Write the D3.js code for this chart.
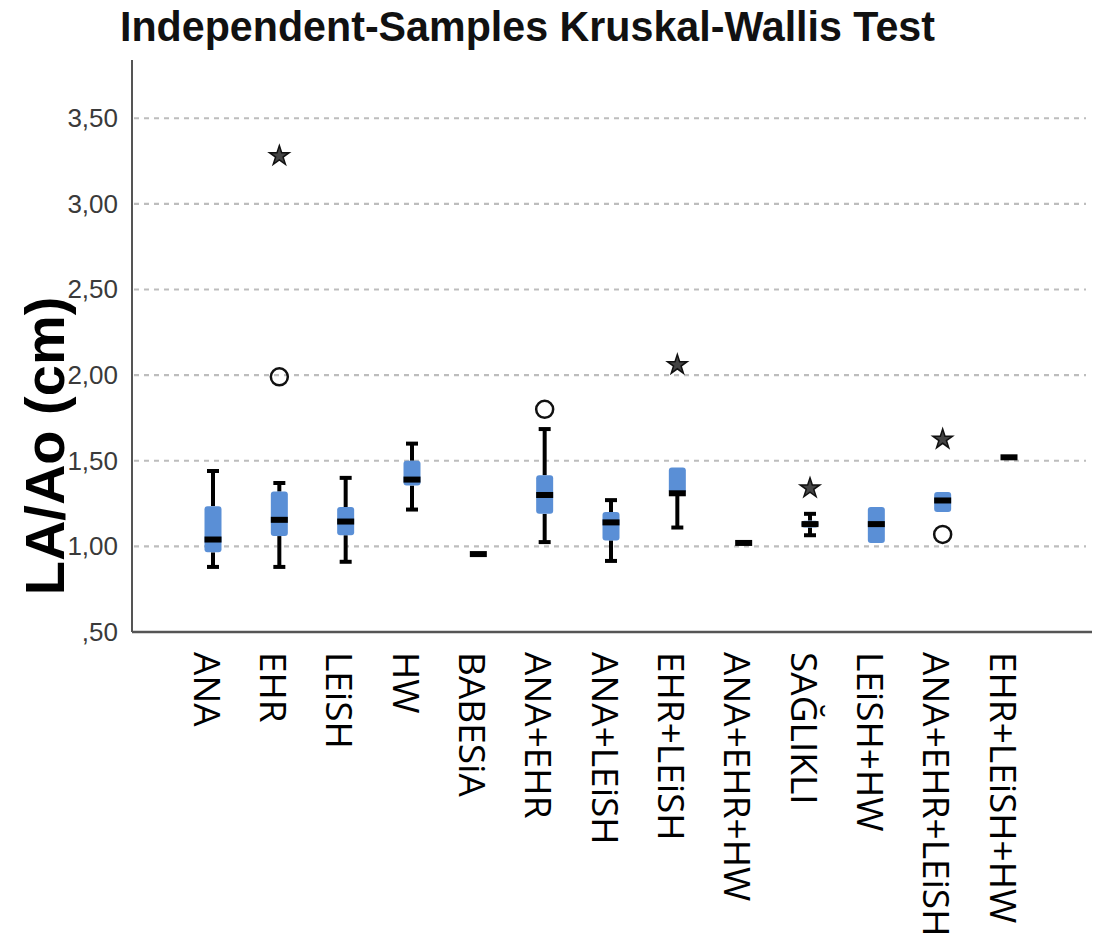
<!DOCTYPE html>
<html>
<head>
<meta charset="utf-8">
<script src="https://cdn.jsdelivr.net/npm/d3@7"></script>
<style>
  html, body { margin: 0; padding: 0; background: #fff; }
  svg { display: block; }
</style>
</head>
<body>
<svg id="chart" width="1096" height="950"></svg>
<script>
// ---- data ----
const categories = ["ANA","EHR","LEiSH","HW","BABESiA","ANA+EHR","ANA+LEiSH","EHR+LEiSH","ANA+EHR+HW","SAĞLIKLI","LEiSH+HW","ANA+EHR+LEiSH","EHR+LEiSH+HW"];
const whiskerLow  = [0.88, 0.88, 0.91, 1.215, 0.955, 1.025, 0.915, 1.11, 1.02, 1.065, 1.02, 1.20, 1.52];
const q1          = [0.965,1.06, 1.065,1.355, 0.955, 1.19, 1.035, 1.31, 1.02, 1.11, 1.02, 1.20, 1.52];
const medians     = [1.04, 1.155,1.145,1.39, 0.955, 1.30, 1.14, 1.31, 1.02, 1.13, 1.13, 1.268, 1.52];
const q3          = [1.235,1.32, 1.23, 1.50, 0.955, 1.415, 1.20, 1.46, 1.02, 1.15, 1.23, 1.318, 1.52];
const whiskerHigh = [1.44, 1.37, 1.40, 1.60, 0.955, 1.685, 1.27, 1.46, 1.02, 1.19, 1.23, 1.318, 1.52];
const circleCats   = ["EHR","ANA+EHR","ANA+EHR+LEiSH"];
const circleValues = [1.99, 1.80, 1.07];
const starCats     = ["EHR","EHR+LEiSH","SAĞLIKLI","ANA+EHR+LEiSH"];
const starValues   = [3.28, 2.06, 1.34, 1.625];
const yTicks = [0.5, 1.0, 1.5, 2.0, 2.5, 3.0, 3.5];
const titleText = "Independent-Samples Kruskal-Wallis Test";
const yTitle = "LA/Ao (cm)";

// ---- layout ----
const svg = d3.select("#chart");
const plotLeft = 132, plotRight = 1092, plotTop = 60, plotBottom = 632;

const y = d3.scaleLinear().domain([0.5, 3.84]).range([plotBottom, plotTop]);
const x = d3.scalePoint().domain(categories).range([213, 1009]);

const fmt = v => { const s = d3.format(".2f")(v).replace(".", ","); return s.startsWith("0") ? s.slice(1) : s; };

// gridlines
svg.append("g").selectAll("line").data(yTicks.filter(t => t > 0.5)).join("line")
  .attr("x1", plotLeft + 2).attr("x2", 1086)
  .attr("y1", d => y(d)).attr("y2", d => y(d))
  .attr("stroke", "#bdbdbd").attr("stroke-width", 2.2).attr("stroke-dasharray", "5,5");

// y axis
const yAxis = d3.axisLeft(y).tickValues(yTicks).tickSize(0).tickPadding(14).tickFormat(fmt);
const gy = svg.append("g").attr("transform", `translate(${plotLeft},0)`).call(yAxis);
gy.select(".domain").remove();
gy.selectAll("text").attr("font-family", "Liberation Sans, Arial, sans-serif")
  .attr("font-size", 26).attr("fill", "#3a3a3a");

// axis lines
svg.append("line").attr("x1", plotLeft).attr("x2", plotLeft).attr("y1", plotTop).attr("y2", plotBottom)
  .attr("stroke", "#555").attr("stroke-width", 2);
svg.append("line").attr("x1", plotLeft).attr("x2", plotRight).attr("y1", plotBottom).attr("y2", plotBottom)
  .attr("stroke", "#555").attr("stroke-width", 2.5);

// x axis labels
const xAxis = d3.axisBottom(x).tickSize(0).tickPadding(0);
const gx = svg.append("g").attr("transform", `translate(-7,${plotBottom + 20})`).call(xAxis);
gx.select(".domain").remove();
gx.selectAll("text")
  .attr("font-family", "Open Sans, sans-serif").attr("font-size", 37).attr("fill", "#000")
  .attr("text-anchor", "start").attr("y", 0).attr("x", 0).attr("dy", "0.35em")
  .attr("transform", "rotate(90)");

// boxes
const boxW = 17;
const rows = categories.map((c, i) => ({c, lo: whiskerLow[i], q1: q1[i], med: medians[i], q3: q3[i], hi: whiskerHigh[i]}));
const g = svg.append("g");
rows.forEach(r => {
  const cx = x(r.c);
  if (r.hi > r.q3) {
    g.append("line").attr("x1", cx).attr("x2", cx).attr("y1", y(r.q3)).attr("y2", y(r.hi)).attr("stroke", "#000").attr("stroke-width", 4);
    g.append("line").attr("x1", cx - 6).attr("x2", cx + 6).attr("y1", y(r.hi)).attr("y2", y(r.hi)).attr("stroke", "#000").attr("stroke-width", 4);
  }
  if (r.lo < r.q1) {
    g.append("line").attr("x1", cx).attr("x2", cx).attr("y1", y(r.q1)).attr("y2", y(r.lo)).attr("stroke", "#000").attr("stroke-width", 4);
    g.append("line").attr("x1", cx - 6).attr("x2", cx + 6).attr("y1", y(r.lo)).attr("y2", y(r.lo)).attr("stroke", "#000").attr("stroke-width", 4);
  }
  if (r.q3 > r.q1) {
    g.append("rect").attr("x", cx - boxW / 2).attr("width", boxW)
      .attr("y", y(r.q3)).attr("height", y(r.q1) - y(r.q3))
      .attr("rx", 3).attr("fill", "#5a8fd6");
  }
  g.append("rect").attr("x", cx - boxW / 2).attr("width", boxW)
    .attr("y", y(r.med) - 3).attr("height", 6).attr("fill", "#000");
});

// outliers: circles
g.selectAll("circle.out").data(circleCats.map((c, i) => ({c, v: circleValues[i]}))).join("circle")
  .attr("class", "out").attr("cx", d => x(d.c)).attr("cy", d => y(d.v)).attr("r", 8.5)
  .attr("fill", "none").attr("stroke", "#111").attr("stroke-width", 2.5);

// extremes: stars
const star = d3.symbol().type(d3.symbolStar).size(120);
g.selectAll("path.star").data(starCats.map((c, i) => ({c, v: starValues[i]}))).join("path")
  .attr("class", "star").attr("d", star)
  .attr("transform", d => `translate(${x(d.c)},${y(d.v)})`)
  .attr("fill", "#444").attr("stroke", "#111").attr("stroke-width", 1.5);

// title
svg.append("text").attr("x", 120).attr("y", 41)
  .attr("font-family", "Liberation Sans, Arial, sans-serif").attr("font-weight", "bold")
  .attr("font-size", 42).attr("fill", "#111")
  .attr("textLength", 815).attr("lengthAdjust", "spacingAndGlyphs")
  .text(titleText);

// y title
svg.append("text").attr("transform", "translate(64,446) rotate(-90)")
  .attr("text-anchor", "middle")
  .attr("font-family", "Liberation Sans, Arial, sans-serif").attr("font-weight", "bold")
  .attr("font-size", 56).attr("fill", "#000")
  .text(yTitle);
</script>
</body>
</html>
